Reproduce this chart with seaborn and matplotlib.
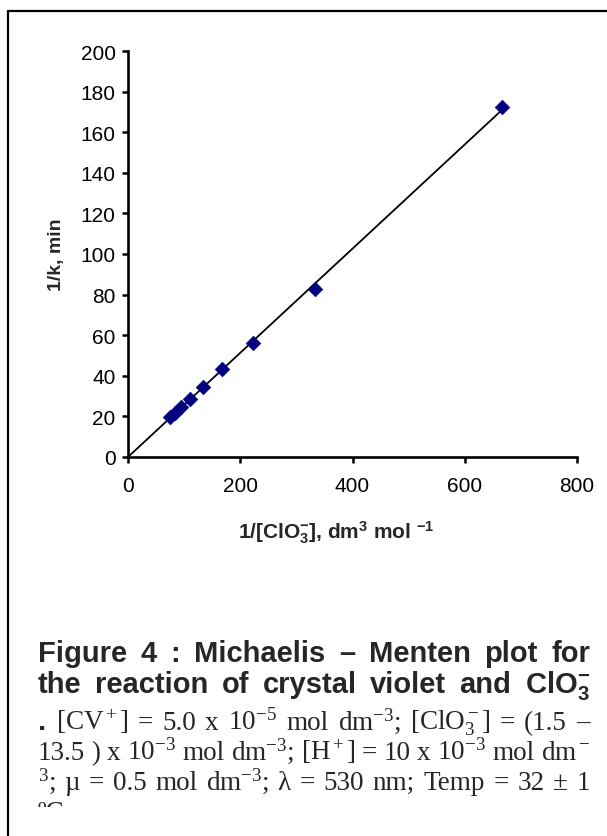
import matplotlib
matplotlib.use('Agg')
from matplotlib import pyplot as plt
from matplotlib.lines import Line2D
from matplotlib.patches import Rectangle
import numpy as np
import pandas as pd
import seaborn as sns


# valores
inv_clo3 = [74.1, 83.3, 95.2, 111.1, 133.3, 166.7, 222.2, 333.3, 666.7]
inv_k = [19.8, 21.5, 24.5, 28.5, 34.5, 43.3, 56.0, 82.7, 172.5]
x_ticks = [0, 200, 400, 600, 800]
y_ticks = [0, 20, 40, 60, 80, 100, 120, 140, 160, 180, 200]

x_label = r'1/[ClO$_\mathbf{3}^\mathbf{-}$], dm$^\mathbf{3}$ mol $^\mathbf{-1}$'
y_label = '1/k, min'

legenda_negrito = [
    'Figure 4 : Michaelis – Menten plot for',
    r'the reaction of crystal violet and ClO$_\mathbf{3}^\mathbf{-}$',
]
legenda_serif = [
    r'. [CV$^+$] = 5.0 x 10$^{-5}$ mol dm$^{-3}$; [ClO$_3^-$] = (1.5 –',
    r'13.5 ) x 10$^{-3}$ mol dm$^{-3}$; [H$^+$] = 10 x 10$^{-3}$ mol dm$^-$',
    r'$^3$; µ = 0.5 mol dm$^{-3}$; λ = 530 nm; Temp = 32 ± 1',
    'ºC',
]

W, H = 607, 837

FONTE_NEGRITO = dict(family=['Liberation Sans', 'DejaVu Sans'], weight='bold', size=21)
FONTE_SERIF = dict(family=['Liberation Serif', 'DejaVu Serif'], size=19.5)


# Função para escrever uma linha justificada entre x0 e x1 (em pixels)
def linha_justificada(fig, texto, base_px, x0_px, x1_px, fonte, justificar=True, clip=None):
    renderer = fig.canvas.get_renderer()
    objs = []
    for p in texto.split(' '):
        kw = FONTE_NEGRITO if p == '.' else fonte
        t = fig.text(0, 1 - base_px / H, p, ha='left', va='baseline', **kw)
        if clip is not None:
            t.set_clip_path(clip)
            t.set_clip_on(True)
        objs.append(t)
    larguras = [o.get_window_extent(renderer).width for o in objs]
    if justificar and len(objs) > 1:
        gap = (x1_px - x0_px - sum(larguras)) / (len(objs) - 1)
    else:
        gap = 5
    x = x0_px
    for o, w in zip(objs, larguras):
        o.set_x(x / W)
        x += w + gap


def gerar_grafico():
    sns.set_style('ticks')
    plt.rcParams['font.family'] = ['Liberation Sans', 'DejaVu Sans']
    plt.rcParams['mathtext.fontset'] = 'custom'
    plt.rcParams['mathtext.rm'] = 'Liberation Serif'
    plt.rcParams['mathtext.it'] = 'Liberation Serif:italic'
    plt.rcParams['mathtext.bf'] = 'Liberation Sans:bold'
    plt.rcParams['mathtext.default'] = 'rm'

    fig = plt.figure(figsize=(W / 100, H / 100), dpi=100)
    ax = fig.add_axes([128 / W, 1 - 458 / H, (577 - 128) / W, (458 - 52) / H])

    df = pd.DataFrame({'x': inv_clo3, 'y': inv_k})

    # reta pela origem (mínimos quadrados)
    x = np.array(inv_clo3)
    y = np.array(inv_k)
    slope = (x * y).sum() / (x * x).sum()
    reta = pd.DataFrame({'x': [0, x.max()], 'y': [0, slope * x.max()]})
    sns.lineplot(data=reta, x='x', y='y', color='black', linewidth=1.3, ax=ax)

    sns.scatterplot(data=df, x='x', y='y', marker='D', s=55, color='#000080',
                    edgecolor='#000080', linewidth=0.5, zorder=3, ax=ax)

    ax.set_xlim(0, 800)
    ax.set_ylim(0, 200)
    ax.set_xticks(x_ticks)
    ax.set_yticks(y_ticks)
    ax.tick_params(direction='out', length=4, width=1.8, labelsize=15, pad=5, colors='black')
    ax.tick_params(axis='x', pad=10)
    for s in ['right', 'top']:
        ax.spines[s].set_visible(False)
    for s in ['left', 'bottom']:
        ax.spines[s].set_linewidth(1.9)
        ax.spines[s].set_color('black')

    ax.set_xlabel(x_label, fontsize=15, fontweight='bold', va='center')
    ax.xaxis.set_label_coords((336 - 128) / 449, -(533 - 458) / 406)
    ax.set_ylabel(y_label, fontsize=14, fontweight='bold', va='center', rotation_mode='anchor')
    ax.yaxis.set_label_coords((57 - 128) / 449, 0.5)

    # moldura (cortada à direita e embaixo)
    fig.add_artist(Line2D([8 / W, 8 / W], [0, 1 - 12 / H], color='black', linewidth=1.6))
    fig.add_artist(Line2D([8 / W, 1], [1 - 12 / H, 1 - 12 / H], color='black', linewidth=1.6))

    # legenda
    clip = Rectangle((0, 1 - 808 / H), 1, 808 / H, transform=fig.transFigure)
    bases = [662, 693, 730, 760, 790, 820]
    linhas = legenda_negrito + legenda_serif
    for i, texto in enumerate(linhas):
        fonte = FONTE_NEGRITO if i < 2 else FONTE_SERIF
        ultima = i == len(linhas) - 1
        linha_justificada(fig, texto, bases[i], 38, 590, fonte,
                          justificar=not ultima, clip=clip if ultima else None)

    fig.savefig('out.png', dpi=100)


def main():
    gerar_grafico()


if __name__ == '__main__':
    main()
